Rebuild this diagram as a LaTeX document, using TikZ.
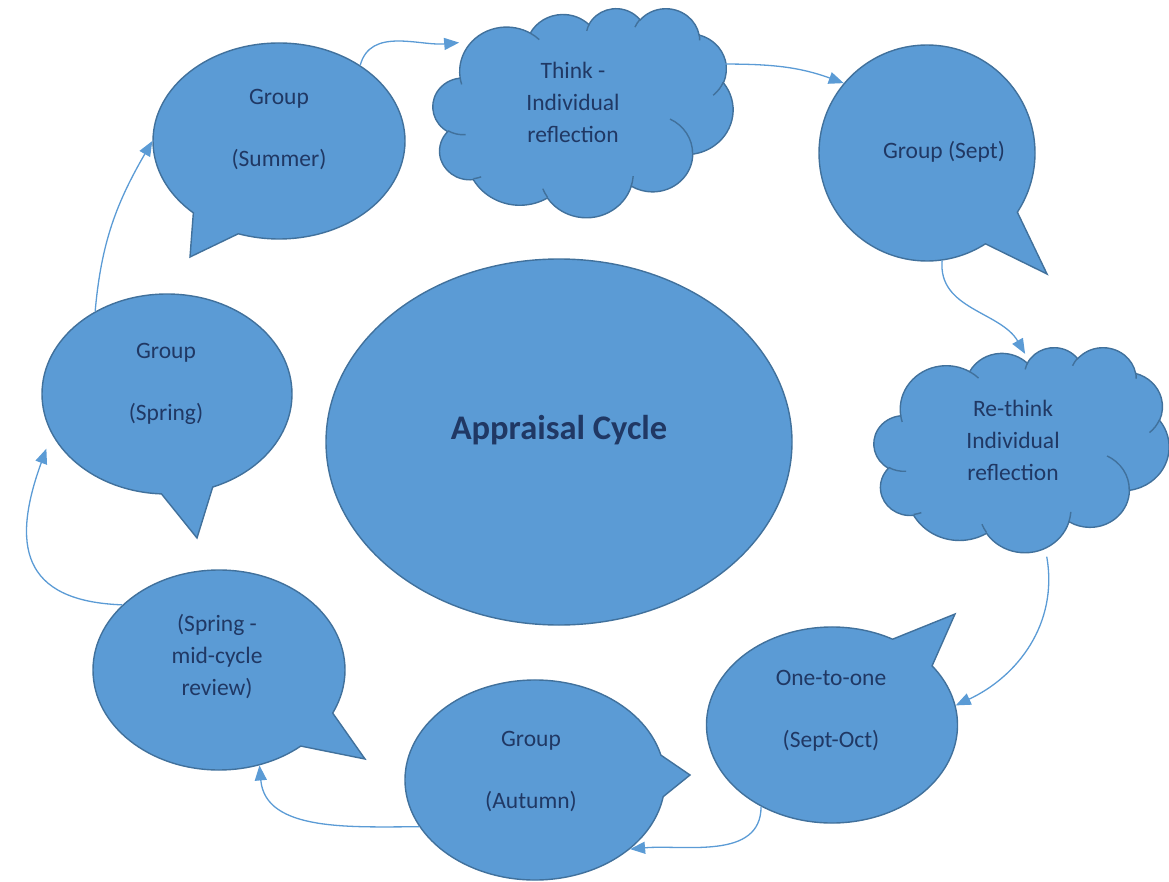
\documentclass[tikz,border=0pt]{standalone}
\usepackage{fontspec}
\setmainfont{Carlito}
\usetikzlibrary{shapes.callouts,shapes.geometric,arrows.meta}
\definecolor{shapefill}{RGB}{91,155,213}
\definecolor{shapeline}{RGB}{65,113,156}
\definecolor{labeltext}{RGB}{32,56,100}

% one puff: radii, start and sweep as seen from the puff centre
\newcommand{\puff}[4]{arc[x radius=#1, y radius=#2,
  start angle={atan2(#1*sin(#3),#2*cos(#3))},
  delta angle={mod(atan2(#1*sin(#3+#4),#2*cos(#3+#4))-atan2(#1*sin(#3),#2*cos(#3))+720,360)}]}

% cloud outline on a 4320 x 4320 grid: left, top, x unit, y unit
\newcommand{\drawCloud}[4]{%
  \begin{scope}[shift={(#1,#2)}, x=#3pt, y=-#4pt]
    \filldraw[fill=shapefill, draw=shapeline, line width=1.4pt] (390,1437)
      \puff{675.3}{919.0}{-190.487}{123.781}
      \puff{533.3}{726.7}{-144.102}{89.945}
      \puff{436.5}{594.5}{-145.808}{99.723}
      \puff{485.7}{659.5}{-130.986}{117.242}
      \puff{533.3}{727.3}{-78.709}{109.027}
      \puff{677.5}{922.0}{-46.267}{130.269}
      \puff{578.5}{786.7}{0.625}{114.033}
      \puff{675.2}{921.5}{22.452}{115.173}
      \puff{772.0}{1054.3}{66.243}{75.711}
      \puff{436.0}{591.8}{-274.942}{146.736}
      \puff{434.5}{594.5}{-246.829}{152.519}
      -- cycle;
    % inner puff lines
    \draw[shapeline, line width=1.4pt]
      (469.3,2617.7) \puff{434.5}{594.5}{86.742}{26.430}
      (692.8,3489.9) \puff{436.0}{591.8}{73.610}{11.447}
      (1647.8,3909.0) \puff{675.2}{921.5}{137.624}{14.081}
      (2882.7,3475.1) \puff{772.0}{1054.3}{6.453}{15.998}
      (3412.9,2295.4) \puff{578.5}{786.7}{-70.292}{70.917}
      (4179.8,1535.4) \puff{533.3}{727.3}{30.318}{27.752}
      (3832.4,542.6) \puff{485.7}{659.5}{-13.744}{14.866}
      (2907.8,395.2) \puff{485.7}{659.5}{-149.181}{18.198}
      (2214.1,472.0) \puff{436.5}{594.5}{-163.494}{17.688}
      (1400.5,519.2) \puff{675.3}{919.0}{-66.707}{12.319}
      (412.7,1578.9) \puff{675.3}{919.0}{157.654}{11.858};
  \end{scope}}

\begin{document}
\begin{tikzpicture}[x=1pt,y=-1pt,
    bubble/.style={ellipse callout, fill=shapefill, draw=shapeline, line width=1.4pt,
                   callout pointer arc=24, inner sep=0pt},
    cloudspot/.style={ellipse, inner sep=0pt},
    txt/.style={text=labeltext, font=\fontsize{23.5}{32}\selectfont, align=center},
    flow/.style={draw=shapefill, line width=1.3pt, -{Triangle[length=15pt,width=12pt]}}]
  \useasboundingbox (0,0) rectangle (1169,882);

  % Centre: the cycle itself
  \node[ellipse, fill=shapefill, draw=shapeline, line width=1.4pt,
        minimum width=466pt, minimum height=366pt] (cycle) at (559,442) {};
  \node[text=labeltext, font=\fontsize{34.5}{40}\selectfont\bfseries] (cycleText) at (559,430) {Appraisal Cycle};

  % Speech bubbles round the ring
  \node[bubble, minimum width=252pt, minimum height=196pt,
        callout absolute pointer={(190,257)}] (summer) at (279,141) {};
  \node[bubble, minimum width=216pt, minimum height=216pt,
        callout absolute pointer={(1047,274)}] (sept) at (927,153) {};
  \node[bubble, minimum width=251pt, minimum height=196pt,
        callout absolute pointer={(955,614)}] (oneToOne) at (832,725) {};
  \node[bubble, minimum width=260pt, minimum height=200pt,
        callout absolute pointer={(690,775)}] (autumn) at (535,780) {};
  \node[bubble, minimum width=252pt, minimum height=200pt,
        callout absolute pointer={(365,759)}] (midCycle) at (219,670) {};
  \node[bubble, minimum width=250pt, minimum height=200pt,
        callout absolute pointer={(197,538)}] (spring) at (167,394) {};

  % Thought clouds (outline drawn, ellipse node kept for the arrows)
  \drawCloud{433}{8}{0.069444}{0.048380}
  \node[cloudspot, minimum width=300pt, minimum height=209pt] (think) at (583,112.5) {};
  \drawCloud{874}{347}{0.068287}{0.047454}
  \node[cloudspot, minimum width=295pt, minimum height=205pt] (rethink) at (1021.5,449.5) {};

  % Labels
  \node[txt] (summerText) at (279,130) {Group\\[30pt](Summer)};
  \node[txt] (thinkText) at (573,102) {Think -\\Individual\\reflection};
  \node[txt] (septText) at (944,152) {Group (Sept)};
  \node[txt] (rethinkText) at (1013,440) {Re-think\\Individual\\reflection};
  \node[txt] (oneToOneText) at (831,711) {One-to-one\\[30pt](Sept-Oct)};
  \node[txt] (autumnText) at (531,771) {Group\\[30pt](Autumn)};
  \node[txt] (midCycleText) at (217,657) {(Spring -\\mid-cycle\\review)};
  \node[txt] (springText) at (166,384) {Group\\[30pt](Spring)};

  % Arrows: clockwise round the ring
  \draw[flow] (summer.43) to[out=75, in=185] ([xshift=-12pt]think.148);
  \draw[flow] ([xshift=8pt]think.20) to[out=0, in=160] (sept.140);
  \draw[flow] (sept.-82) to[out=-95, in=120] ([yshift=-7pt]rethink.88);
  \draw[flow] ([yshift=-6pt]rethink.-76) to[out=-80, in=25] (oneToOne.9);
  \draw[flow] (oneToOne.229) to[out=-90, in=5] (autumn.-36);
  \draw[flow] (autumn.202) to[out=180, in=-85] (midCycle.-67);
  \draw[flow] (midCycle.146) to[out=178, in=-110, looseness=1.5] ([xshift=-12pt,yshift=-4pt]spring.205);
  \draw[flow] (spring.131) to[out=85, in=-120] (summer.180);
\end{tikzpicture}
\end{document}
